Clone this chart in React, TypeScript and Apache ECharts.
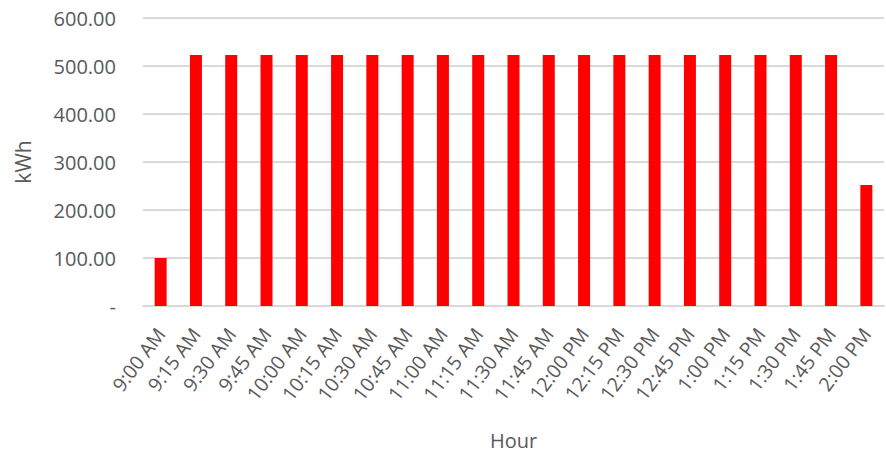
import React, { useEffect, useRef } from "react";
import * as echarts from "echarts";

const categories = [
  "9:00 AM", "9:15 AM", "9:30 AM", "9:45 AM", "10:00 AM", "10:15 AM", "10:30 AM",
  "10:45 AM", "11:00 AM", "11:15 AM", "11:30 AM", "11:45 AM", "12:00 PM", "12:15 PM",
  "12:30 PM", "12:45 PM", "1:00 PM", "1:15 PM", "1:30 PM", "1:45 PM", "2:00 PM",
];
const energyKwh = [
  100, 523, 523, 523, 523, 523, 523, 523, 523, 523, 523, 523, 523, 523, 523, 523, 523,
  523, 523, 523, 252,
];

export default function App() {
  const ref = useRef<HTMLDivElement>(null);
  useEffect(() => {
    if (!ref.current) return;
    const chart = echarts.init(ref.current, undefined, { renderer: "svg" });
    const font = "'Open Sans', 'Liberation Sans', sans-serif";
    chart.setOption({
      animation: false,
      backgroundColor: "#ffffff",
      grid: {
        left: 143,
        right: 2,
        top: 18,
        bottom: 151,
        containLabel: false,
        outerBoundsMode: "none",
      },
      xAxis: {
        type: "category",
        data: categories,
        name: "Hour",
        nameLocation: "middle",
        nameGap: 124,
        nameTextStyle: { color: "#595959", fontSize: 20, fontFamily: font },
        axisLine: { show: true, lineStyle: { color: "#d9d9d9", width: 2 } },
        axisTick: { show: false },
        axisLabel: {
          rotate: 53,
          color: "#595959",
          fontSize: 19.5,
          fontFamily: font,
          margin: 24,
          interval: 0,
        },
      },
      yAxis: {
        type: "value",
        min: 0,
        max: 600,
        interval: 100,
        name: "kWh",
        nameLocation: "middle",
        nameGap: 110,
        nameRotate: 90,
        nameTextStyle: { color: "#595959", fontSize: 21, fontFamily: font },
        axisLine: { show: false },
        axisTick: { show: false },
        axisLabel: {
          color: "#595959",
          fontSize: 20,
          fontFamily: font,
          margin: 27,
          formatter: (v: number) => (v === 0 ? "-" : v.toFixed(2)),
        },
        splitLine: { lineStyle: { color: "#d9d9d9", width: 2 } },
      },
      series: [
        {
          type: "bar",
          data: energyKwh,
          barWidth: 12,
          itemStyle: { color: "#ff0000" },
        },
      ],
    });
    return () => chart.dispose();
  }, []);
  return (
    <div
      ref={ref}
      style={{ position: "absolute", left: 0, top: 0, width: 886, height: 457 }}
    />
  );
}
